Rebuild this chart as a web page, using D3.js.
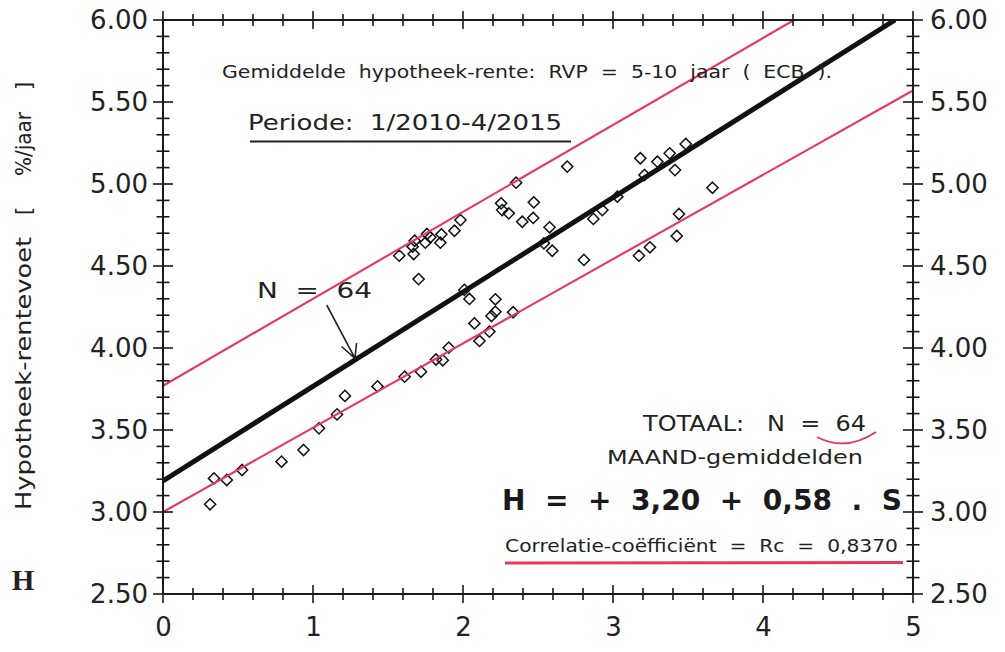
<!DOCTYPE html>
<html>
<head>
<meta charset="utf-8">
<script src="https://cdn.jsdelivr.net/npm/d3@7"></script>
<style>
  html, body { margin: 0; padding: 0; background: #ffffff; }
  svg { display: block; }
  text { white-space: pre; }
</style>
</head>
<body>
<svg id="chart" width="1005" height="652"></svg>
<script>
// ---------- DATA ----------
// Monthly averages: S (x) and H = hypotheek-rentevoet (y)
const sValues = [
  0.314, 0.34, 0.425, 0.527, 0.79, 0.937, 1.04, 1.16, 1.213, 1.43,
  1.611, 1.72, 1.82, 1.865, 1.905, 2.11, 2.176, 2.076, 2.19, 2.216,
  2.334, 2.216, 2.043, 2.009, 1.704, 1.575, 1.671, 1.664, 1.678, 1.749,
  1.76, 1.782, 1.849, 1.856, 1.943, 1.983, 2.254, 2.261, 2.305, 2.354,
  2.395, 2.468, 2.472, 2.539, 2.577, 2.595, 2.695, 2.806, 2.869, 2.929,
  3.029, 3.173, 3.246, 3.182, 3.21, 3.296, 3.378, 3.413, 3.485, 3.425,
  3.44, 3.663
];
const hValues = [
  3.047, 3.205, 3.195, 3.256, 3.307, 3.378, 3.51, 3.595, 3.708, 3.766,
  3.825, 3.855, 3.93, 3.925, 4.002, 4.043, 4.10, 4.15, 4.195, 4.221,
  4.218, 4.297, 4.299, 4.354, 4.42, 4.563, 4.573, 4.618, 4.654, 4.642,
  4.695, 4.675, 4.642, 4.693, 4.715, 4.78, 4.882, 4.841, 4.821, 5.008,
  4.77, 4.793, 4.888, 4.638, 4.736, 4.593, 5.106, 4.537, 4.787, 4.841,
  4.923, 4.563, 4.614, 5.157, 5.055, 5.136, 5.187, 5.085, 5.244, 4.683,
  4.817, 4.977
];
// Regression line H = 3.20 + 0.58 S (endpoints as drawn)
const regLine = [[0, 3.19], [4.88, 6.00]];
// Upper and lower red band lines (endpoints as drawn)
const upperBand = [[0, 3.77], [4.207, 6.00]];
const lowerBand = [[0, 3.00], [5.0, 5.57]];

const xTickValues = [0, 1, 2, 3, 4, 5];
const xTickLabels = ["0", "1", "2", "3", "4", "5"];
const yTickValues = [2.5, 3.0, 3.5, 4.0, 4.5, 5.0, 5.5, 6.0];
const yTickLabels = ["2.50", "3.00", "3.50", "4.00", "4.50", "5.00", "5.50", "6.00"];

// ---------- LAYOUT ----------
const svg = d3.select("#chart");
const L = 163, R = 913, T = 20, B = 594;
const x = d3.scaleLinear().domain([0, 5]).range([L, R]);
const y = d3.scaleLinear().domain([2.5, 6.0]).range([B, T]);
const tickFont = "'DejaVu Sans', sans-serif";
const textFont = "'DejaVu Sans', sans-serif";
const red = "#e8375c";
const ink = "#222";

// ---------- POINTS (drawn first; lines go over them) ----------
const pts = sValues.map((s, i) => [s, hValues[i]]);
const d = 5.6;
svg.append("g").selectAll("path").data(pts).join("path")
  .attr("d", p => {
    const cx = x(p[0]), cy = y(p[1]);
    return `M${cx},${cy - d}L${cx + d},${cy}L${cx},${cy + d}L${cx - d},${cy}Z`;
  })
  .attr("fill", "none").attr("stroke", "#111").attr("stroke-width", 1.5);

// ---------- LINES ----------
svg.append("clipPath").attr("id", "plotclip")
  .append("rect").attr("x", L).attr("y", T).attr("width", R - L).attr("height", B - T);
const line = d3.line().x(p => x(p[0])).y(p => y(p[1]));
const gl = svg.append("g").attr("clip-path", "url(#plotclip)");
gl.append("path").attr("d", line(upperBand)).attr("stroke", red).attr("stroke-width", 2.1).attr("fill", "none");
gl.append("path").attr("d", line(lowerBand)).attr("stroke", red).attr("stroke-width", 2.1).attr("fill", "none");
gl.append("path").attr("d", line(regLine)).attr("stroke", "#111").attr("stroke-width", 5).attr("fill", "none");

// ---------- AXES ----------
const axisCol = "#1a1a1a";
svg.append("rect").attr("x", L).attr("y", T).attr("width", R - L).attr("height", B - T)
  .attr("fill", "none").attr("stroke", axisCol).attr("stroke-width", 2);

const xMinor = d3.range(0, 5.0001, 0.2);
const yMinor = d3.range(2.5, 6.0001, 0.1);
const isMajorX = v => Math.abs(v - Math.round(v)) < 1e-6;
const isMajorY = v => Math.abs(v * 2 - Math.round(v * 2)) < 1e-6;
const tg = svg.append("g").attr("stroke", axisCol).attr("stroke-width", 1.6);
xMinor.forEach(v => {
  const len = isMajorX(v) ? 9 : 6;
  [B, T].forEach(yy => {
    tg.append("line").attr("x1", x(v)).attr("x2", x(v)).attr("y1", yy - len).attr("y2", yy + len);
  });
});
yMinor.forEach(v => {
  const len = isMajorY(v) ? 10 : 6.5;
  [L, R].forEach(xx => {
    tg.append("line").attr("y1", y(v)).attr("y2", y(v)).attr("x1", xx - len).attr("x2", xx + len);
  });
});

function styleAxis(g) {
  g.select(".domain").remove();
  g.selectAll(".tick line").remove();
  g.selectAll("text").attr("font-family", tickFont).attr("font-size", 26).attr("fill", ink);
}
svg.append("g").attr("transform", `translate(${L},0)`)
  .call(d3.axisLeft(y).tickValues(yTickValues).tickFormat((v, i) => yTickLabels[i]).tickSize(0).tickPadding(15))
  .call(styleAxis);
svg.append("g").attr("transform", `translate(${R},0)`)
  .call(d3.axisRight(y).tickValues(yTickValues).tickFormat((v, i) => yTickLabels[i]).tickSize(0).tickPadding(17))
  .call(styleAxis);
svg.append("g").attr("transform", `translate(0,${B})`)
  .call(d3.axisBottom(x).tickValues(xTickValues).tickFormat((v, i) => xTickLabels[i]).tickSize(0).tickPadding(24))
  .call(styleAxis);

// ---------- TEXT HELPERS ----------
// stretch a string (glyphs and gaps) to the target width, mimicking the wide original face
function fit(t, len) {
  t.attr("textLength", len).attr("lengthAdjust", "spacingAndGlyphs");
}
function vtext(yPos, str, anchor, len) {
  const t = svg.append("text")
    .attr("transform", `translate(31,${yPos}) rotate(-90)`)
    .attr("text-anchor", anchor).attr("font-family", textFont).attr("font-size", 22).attr("fill", ink)
    .text(str);
  if (len) fit(t, len);
  return t;
}
function label(xp, yp, str, size, len, bold) {
  const t = svg.append("text").attr("x", xp).attr("y", yp)
    .attr("font-family", textFont).attr("font-size", size).attr("fill", ink).text(str);
  if (bold) t.attr("font-weight", "bold").attr("fill", "#1a1a1a");
  fit(t, len);
  return t;
}

// ---------- Y TITLE ----------
vtext(510, "Hypotheek-rentevoet", "start", 273);
vtext(211, "[", "middle");
vtext(176, "%/jaar", "start", 64);
vtext(86, "]", "middle");

svg.append("text").attr("x", 23).attr("y", 590).attr("text-anchor", "middle")
  .attr("font-family", "'Liberation Serif', 'Times New Roman', serif").attr("font-weight", "bold")
  .attr("font-size", 29).attr("fill", ink).text("H");

// ---------- ANNOTATIONS ----------
label(222, 78, "Gemiddelde  hypotheek-rente:  RVP  =  5-10  jaar  (  ECB  ).", 18, 610);
label(248, 130, "Periode:  1/2010-4/2015", 20.5, 314);
svg.append("line").attr("x1", 250).attr("x2", 571).attr("y1", 141.5).attr("y2", 141.5)
  .attr("stroke", ink).attr("stroke-width", 2);

label(257, 298, "N  =  64", 22, 115);
svg.append("path").attr("d", "M326.7,305L355,358.3M341.5,346.5L355,358.3L356.5,343")
  .attr("fill", "none").attr("stroke", ink).attr("stroke-width", 1.6);

label(643, 431, "TOTAAL:   N  =  64", 21.5, 223);
svg.append("path").attr("d", "M817,437Q846,452 876,432")
  .attr("fill", "none").attr("stroke", red).attr("stroke-width", 1.8);

label(607, 464, "MAAND-gemiddelden", 20, 256);
label(502, 510, "H  =  +  3,20  +  0,58  .  S", 29, 400, true);
label(505, 552, "Correlatie-coëfficiënt  =  Rc  =  0,8370", 18, 393);
svg.append("line").attr("x1", 505).attr("x2", 903).attr("y1", 563).attr("y2", 562.5)
  .attr("stroke", red).attr("stroke-width", 3);
</script>
</body>
</html>
